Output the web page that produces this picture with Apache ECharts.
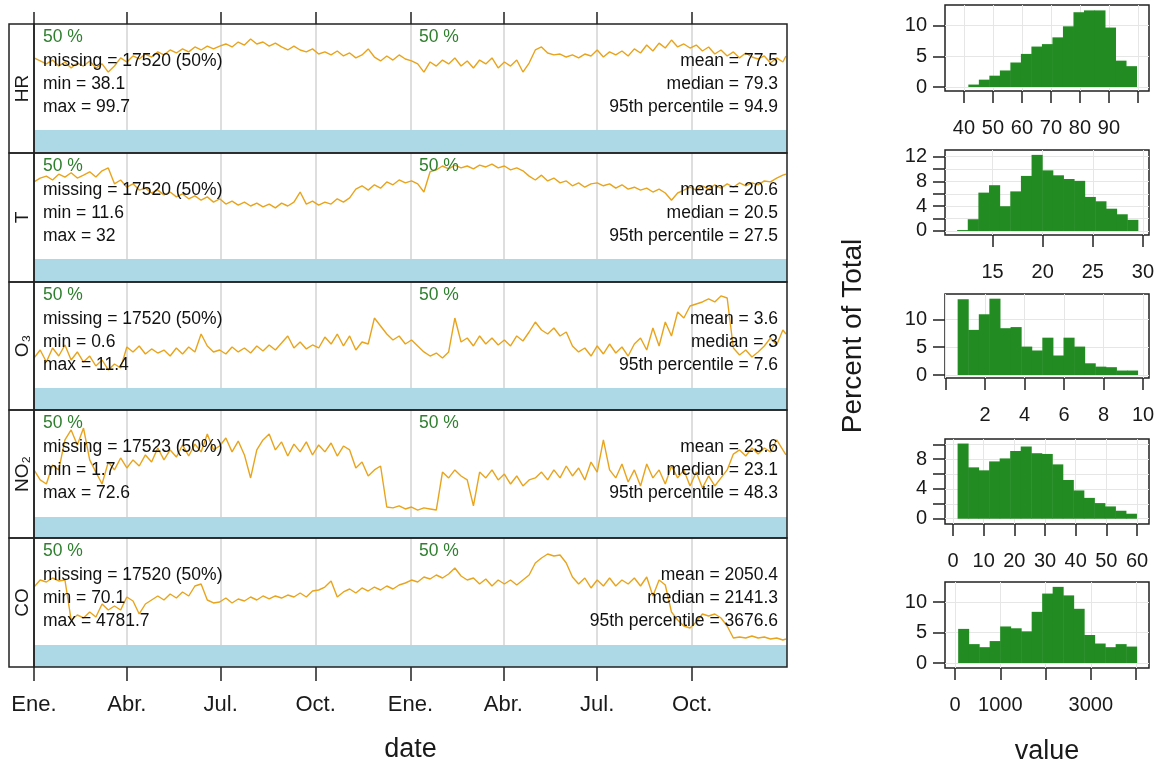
<!DOCTYPE html>
<html><head><meta charset="utf-8">
<script src="https://cdn.jsdelivr.net/npm/echarts@6/dist/echarts.min.js"></script>
<style>html,body{margin:0;padding:0;background:#fff}#c{width:1160px;height:766px}</style>
</head><body><div id="c"></div>
<script>
// ---------------- DATA ----------------
const sampleDays = [0,6,12,18,24,30,36,42,48,54,
  60,66,72,78,84,90,96,102,108,114,
  120,126,132,138,144,150,156,162,168,174,
  180,186,192,198,204,210,216,222,228,234,
  240,246,252,258,264,270,276,282,288,294,
  300,306,312,318,324,330,336,342,348,354,
  360,366,372,378,384,390,396,402,408,414,
  420,426,432,438,444,450,456,462,468,474,
  480,486,492,498,504,510,516,522,528,534,
  540,546,552,558,564,570,576,582,588,594,
  600,606,612,618,624,630,636,642,648,654,
  660,666,672,678,684,690,696,702,708,714,
  720,726,729];
const monthTickDays = [0,90,181,273,365,455,546,638];
const monthTickLabels = ['Ene.','Abr.','Jul.','Oct.','Ene.','Abr.','Jul.','Oct.'];
const variableNames = ['HR','T','O\u2083','NO\u2082','CO'];

const hrValues = [80.8,79.1,77.4,79.6,76.2,78.5,75.1,77.9,76.2,79.1,
  75.1,77.4,72.8,76.2,80.8,78.5,81.9,80.2,83.0,81.3,
  84.2,82.5,85.3,83.6,85.9,84.2,87.0,85.3,87.5,85.9,
  87.5,88.7,87.0,89.8,88.1,91.5,88.7,89.8,87.5,89.2,
  87.0,85.3,87.5,85.3,84.2,85.9,83.0,84.2,82.5,84.7,
  81.9,83.6,80.8,82.5,85.9,81.3,79.1,81.9,79.6,82.5,
  80.2,79.1,77.4,72.8,78.5,76.2,79.6,77.4,80.8,76.2,
  79.1,75.1,79.6,77.4,80.8,75.1,78.5,76.2,79.6,72.8,
  77.9,85.3,87.0,83.6,82.5,83.0,81.3,82.5,80.8,83.0,
  81.9,85.3,81.3,84.2,82.5,84.7,81.9,85.9,83.6,88.1,
  84.7,89.2,86.4,90.9,87.0,88.7,86.4,88.1,84.7,87.0,
  83.0,85.3,81.9,84.2,80.8,83.6,81.3,80.2,81.9,77.9,
  80.8,78.5,81.9];
const tValues = [26.0,26.8,27.2,26.4,27.6,27.0,27.9,26.8,27.4,28.1,
  27.0,28.3,28.9,25.6,26.4,24.9,25.6,24.3,24.7,23.7,
  24.3,23.3,23.9,22.9,23.5,22.5,23.1,22.2,22.9,21.8,
  22.5,21.4,22.0,21.2,21.8,21.0,21.6,20.8,21.4,20.6,
  21.6,21.0,21.8,23.9,21.4,22.0,21.2,21.8,21.4,22.5,
  21.8,22.7,24.5,25.2,24.3,25.4,24.7,26.0,25.4,26.4,
  25.8,26.2,25.6,23.9,28.1,28.5,29.3,28.7,29.5,28.9,
  29.3,28.7,29.5,29.1,29.7,28.9,29.3,28.5,28.9,28.3,
  27.2,26.4,27.4,26.2,26.8,25.8,26.2,25.2,25.8,24.9,
  25.6,25.8,25.2,25.6,24.7,25.4,24.5,24.9,24.3,24.7,
  23.9,24.5,23.7,22.2,23.7,24.3,24.9,24.3,25.2,24.5,
  25.4,24.7,25.6,24.9,25.8,25.2,25.8,25.4,26.2,26.0,
  26.8,27.4,27.6];
const o3Values = [3.40,4.30,2.94,4.53,3.62,4.87,3.17,4.08,2.94,3.62,
  2.49,3.17,2.04,2.72,2.26,4.64,4.08,4.76,3.85,4.42,
  3.96,4.30,3.62,4.53,3.85,4.64,4.08,6.11,4.76,4.08,
  4.30,3.85,4.64,4.08,4.53,3.96,4.76,4.19,4.87,4.30,
  5.09,5.89,4.53,5.21,4.42,4.87,4.53,5.77,4.98,6.11,
  4.76,5.89,4.30,5.21,4.98,7.92,7.02,6.11,5.43,5.89,
  4.98,5.43,4.76,4.08,3.62,3.96,3.40,4.08,7.92,5.21,
  5.66,4.76,5.89,4.98,5.66,4.87,5.43,4.76,5.89,5.32,
  6.34,7.47,6.57,6.11,6.79,5.89,6.34,4.76,4.08,4.53,
  3.62,4.76,3.85,4.98,3.96,4.64,3.62,4.98,5.66,4.30,
  6.79,4.76,7.47,5.89,8.60,7.92,9.28,9.51,9.74,10.08,
  9.74,10.42,10.19,4.53,3.74,4.30,3.51,4.08,4.76,5.66,
  4.87,6.57,6.11];
const no2Values = [26.4,20.8,18.5,29.2,26.4,43.2,48.8,40.4,49.9,32.0,
  25.2,18.5,30.8,26.4,33.1,27.5,32.0,28.6,34.8,30.8,
  38.7,32.0,37.6,33.6,40.4,34.2,40.9,36.5,46.5,37.6,
  39.8,44.3,36.5,42.6,34.8,21.9,37.6,43.2,46.5,37.6,
  42.1,34.2,40.9,36.5,42.1,34.8,40.4,36.5,41.5,34.2,
  39.8,37.6,27.5,30.8,23.0,26.4,28.6,5.6,5.1,6.2,
  4.5,5.6,3.9,5.1,4.5,3.9,25.2,21.9,26.4,23.0,
  20.8,6.2,25.2,21.9,26.4,20.8,24.1,18.5,23.0,17.4,
  20.8,21.9,25.2,20.8,26.4,21.9,28.6,23.0,27.5,20.8,
  30.8,25.2,43.2,26.4,21.9,29.7,19.6,26.4,17.4,29.7,
  21.9,26.4,18.5,28.6,21.9,26.4,17.4,25.2,16.3,23.0,
  17.4,21.9,26.4,35.3,37.6,34.2,38.7,35.3,38.7,36.5,
  43.2,37.6,34.8];
const coValues = [2710,3037,2944,3131,2991,3037,1168,1402,1262,1542,
  1308,1916,1635,1822,1635,2243,2056,1449,1916,2103,
  2290,2103,2383,2196,2477,2290,2757,2850,2103,1963,
  2009,2196,1963,2150,2056,2243,2103,2290,2150,2290,
  2196,2336,2243,2430,2243,2523,2570,2710,2991,2243,
  2477,2617,2430,2664,2523,2710,2570,2757,2617,2804,
  2897,3037,2944,3178,3084,3271,3131,3318,3598,3224,
  3037,3131,2850,3084,2757,3037,2850,3037,2804,3037,
  3271,3832,4065,4252,4159,4206,3832,3178,2850,3131,
  2664,3037,2757,3131,2757,3037,2850,3131,2757,3178,
  2290,3037,2804,1542,1168,888,794,1075,1449,1355,
  1449,1262,888,327,374,327,420,327,374,280,
  327,234,280];

const captureText = ['50 %','50 %'];
const missingText = ['missing = 17520 (50%)','missing = 17520 (50%)','missing = 17520 (50%)','missing = 17523 (50%)','missing = 17520 (50%)'];
const minText = ['min = 38.1','min = 11.6','min = 0.6','min = 1.7','min = 70.1'];
const maxText = ['max = 99.7','max = 32','max = 11.4','max = 72.6','max = 4781.7'];
const meanText = ['mean = 77.5','mean = 20.6','mean = 3.6','mean = 23.6','mean = 2050.4'];
const medianText = ['median = 79.3','median = 20.5','median = 3','median = 23.1','median = 2141.3'];
const p95Text = ['95th percentile = 94.9','95th percentile = 27.5','95th percentile = 7.6','95th percentile = 48.3','95th percentile = 3676.6'];

// histograms (percent of total per bin)
const hrHist = [0.4,1.2,1.85,2.7,4.0,5.4,6.6,7.0,8.1,9.9,12.2,12.5,12.5,9.7,4.3,3.4];
const tHist = [0.15,1.9,6.2,7.4,4.0,6.4,8.9,12.3,9.8,9.0,8.4,8.1,5.5,4.8,3.6,2.7,1.8];
const o3Hist = [13.6,8.1,10.9,13.7,8.4,8.6,5.1,4.4,6.7,3.5,6.7,5.1,2.1,1.5,1.4,0.8,0.8];
const no2Hist = [10.1,6.9,6.5,7.7,8.1,9.1,9.7,8.8,8.7,7.3,5.2,3.8,2.8,2.1,1.65,1.07,0.67];
const coHist = [5.6,3.1,2.6,3.6,6.0,5.7,5.2,8.4,11.4,12.5,11.1,8.9,4.6,3.2,2.6,3.1,2.7];
const histBinStart = [41.5, 11.47, 0.61, 1.5, 70];
const histBinWidth = [3.625, 1.06, 0.536, 3.43, 232];
const histXTicks = [[40,50,60,70,80,90,100],[15,20,25,30],[0,2,4,6,8,10],[0,10,20,30,40,50,60],[0,1000,2000,3000,4000]];
const histXLabels = [[40,50,60,70,80,90],[15,20,25,30],[2,4,6,8,10],[0,10,20,30,40,50,60],[0,1000,3000]];
const histYTicks = [[0,5,10],[0,2,4,6,8,10,12],[0,5,10],[0,2,4,6,8,10],[0,5,10]];
const histYLabels = [[0,5,10],[0,4,8,12],[0,5,10],[0,4,8],[0,5,10]];

// ---------------- LAYOUT / STYLE ----------------
const FONT = '"Liberation Sans", Arial, Helvetica, sans-serif';
const seriesValues = [hrValues, tValues, o3Values, no2Values, coValues];
const histValues = [hrHist, tHist, o3Hist, no2Hist, coHist];
const panelTop = [24,153,282,410,538];
const panelH = [129,129,128,128,129];
const bandH = [23,23,22,21,22];
const yRange = [[40,100],[10,32],[0,12],[0,60],[0,5000]];
const stripX = 9, plotX = 34, plotR = 787;
const histTop = [5,150,294,439,582];
const histH = [86,85,84,85,86];
const histXRange = [[33.45,103.8],[10.26,30.6],[-0.03,10.3],[-2.6,63.9],[-221,4287]];
const histYRange = [[-0.65,13.38],[-0.65,13.09],[-0.54,14.54],[-0.71,10.71],[-0.82,13.3]];
const LINE_COLOR = '#E8A41C', BAND_COLOR = '#ADD8E6', BAR_COLOR = '#228B22', GREEN_TEXT = '#2F7F2F';

const grids = [], xAxes = [], yAxes = [], series = [], graphics = [];

for (let i = 0; i < 5; i++) {
  grids.push({left: plotX, width: plotR - plotX, top: panelTop[i], height: panelH[i], show: false});
  const last = i === 4;
  xAxes.push({
    type: 'value', gridIndex: i, min: 0, max: 730, position: 'bottom',
    axisLine: {show: false, onZero: false},
    axisTick: {show: last, length: 14, customValues: monthTickDays, lineStyle: {color: '#222', width: 1.5}},
    axisLabel: {show: last, customValues: monthTickDays, margin: 27, fontSize: 22, color: '#1a1a1a', fontFamily: FONT,
      formatter: v => monthTickLabels[monthTickDays.indexOf(v)]},
    splitLine: {show: true, lineStyle: {color: '#D3D3D3', width: 1.5}},
    name: last ? 'date' : '', nameLocation: 'middle', nameGap: 69,
    nameTextStyle: {fontSize: 27, color: '#1a1a1a', fontFamily: FONT}
  });
  const [lo, hi] = yRange[i];
  const yMin = lo - (hi - lo) * bandH[i] / (panelH[i] - bandH[i]);
  yAxes.push({
    type: 'value', gridIndex: i, min: yMin, max: hi,
    axisLine: {show: false, onZero: false}, axisTick: {show: false}, axisLabel: {show: false}, splitLine: {show: false},
    name: variableNames[i], nameLocation: 'middle', nameGap: 2, nameRotate: 90,
    nameTextStyle: {fontSize: 19, color: '#1a1a1a', fontFamily: FONT}
  });
  series.push({
    type: 'line', xAxisIndex: i, yAxisIndex: i, showSymbol: false, silent: true, animation: false,
    data: sampleDays.map((d, k) => [d, seriesValues[i][k]]),
    lineStyle: {color: LINE_COLOR, width: 1.4}, z: 3,
    markArea: {silent: true, itemStyle: {color: BAND_COLOR, opacity: 1}, data: [[{yAxis: yMin}, {yAxis: lo}]]}
  });
  // frames
  graphics.push({type: 'rect', z: 100, shape: {x: stripX, y: panelTop[i], width: plotX - stripX, height: panelH[i]},
    style: {fill: null, stroke: '#222', lineWidth: 1.5}});
  graphics.push({type: 'rect', z: 100, shape: {x: plotX, y: panelTop[i], width: plotR - plotX, height: panelH[i]},
    style: {fill: null, stroke: '#222', lineWidth: 1.5}});
  // texts
  const t = panelTop[i];
  const txt = (s, x, y, align, color) => graphics.push({type: 'text', z: 50, x: x, y: y,
    style: {text: s, fill: color || '#111', font: '17.5px ' + FONT, align: align, textAlign: align, verticalAlign: 'middle', textVerticalAlign: 'middle'}});
  txt(captureText[0], 43, t + 13, 'left', GREEN_TEXT);
  txt(captureText[1], 419, t + 13, 'left', GREEN_TEXT);
  txt(missingText[i], 43, t + 37, 'left');
  txt(minText[i], 43, t + 60, 'left');
  txt(maxText[i], 43, t + 83, 'left');
  txt(meanText[i], 778, t + 37, 'right');
  txt(medianText[i], 778, t + 60, 'right');
  txt(p95Text[i], 778, t + 83, 'right');
}
// top ticks on first panel
xAxes.push({
  type: 'value', gridIndex: 0, min: 0, max: 730, position: 'top',
  axisLine: {show: false, onZero: false},
  axisTick: {show: true, length: 12, customValues: monthTickDays, lineStyle: {color: '#222', width: 1.5}},
  axisLabel: {show: false}, splitLine: {show: false}
});

// histograms
for (let j = 0; j < 5; j++) {
  const gi = 5 + j;
  grids.push({left: 945, right: 11, top: histTop[j], height: histH[j], show: true,
    borderColor: '#222', borderWidth: 1.5, backgroundColor: '#fff'});
  const xi = xAxes.length, yi = yAxes.length;
  xAxes.push({
    type: 'value', gridIndex: gi, min: histXRange[j][0], max: histXRange[j][1],
    axisLine: {show: false, onZero: false},
    axisTick: {show: true, length: 12, customValues: histXTicks[j], lineStyle: {color: '#222', width: 1.5}},
    axisLabel: {show: true, customValues: histXLabels[j], margin: 27, fontSize: 20, color: '#1a1a1a', fontFamily: FONT,
      formatter: v => String(v)},
    splitLine: {show: true, lineStyle: {color: '#E6E6E6', width: 1}},
    name: j === 4 ? 'value' : '', nameLocation: 'middle', nameGap: 70,
    nameTextStyle: {fontSize: 27, color: '#1a1a1a', fontFamily: FONT}
  });
  yAxes.push({
    type: 'value', gridIndex: gi, min: histYRange[j][0], max: histYRange[j][1],
    axisLine: {show: false, onZero: false},
    axisTick: {show: true, length: 12, customValues: histYTicks[j], lineStyle: {color: '#222', width: 1.5}},
    axisLabel: {show: true, customValues: histYLabels[j], margin: 18, fontSize: 20, color: '#1a1a1a', fontFamily: FONT,
      formatter: v => String(v)},
    splitLine: {show: true, lineStyle: {color: '#E6E6E6', width: 1}},
    name: j === 2 ? 'Percent of Total' : '', nameLocation: 'middle', nameGap: 78, nameRotate: 90,
    nameTextStyle: {fontSize: 28, color: '#1a1a1a', fontFamily: FONT}
  });
  const bins = histValues[j].map((h, k) => [histBinStart[j] + k * histBinWidth[j], histBinStart[j] + (k + 1) * histBinWidth[j], h]);
  series.push({
    type: 'custom', xAxisIndex: xi, yAxisIndex: yi, clip: true, silent: true, animation: false,
    data: bins, encode: {x: [0, 1], y: 2},
    renderItem: (params, api) => {
      const p0 = api.coord([api.value(0), api.value(2)]);
      const p1 = api.coord([api.value(1), 0]);
      return {type: 'rect', shape: {x: p0[0], y: p0[1], width: p1[0] - p0[0] + 0.5, height: p1[1] - p0[1]},
        style: {fill: BAR_COLOR, stroke: null}};
    }
  });
}

const chart = echarts.init(document.getElementById('c'), null, {renderer: 'canvas'});
chart.setOption({
  backgroundColor: '#fff', animation: false,
  textStyle: {fontFamily: FONT},
  grid: grids, xAxis: xAxes, yAxis: yAxes, series: series, graphic: graphics
});
</script></body></html>
